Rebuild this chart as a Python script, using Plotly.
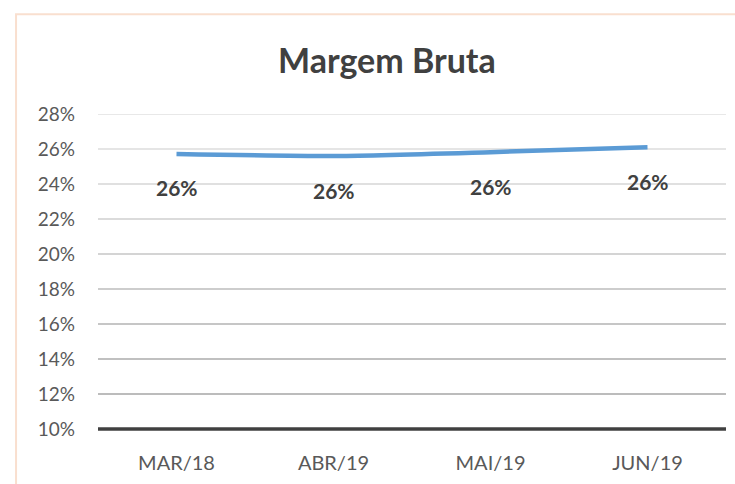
import plotly.graph_objects as go

# Margem Bruta por período (em %)
periodos = ["MAR/18", "ABR/19", "MAI/19", "JUN/19"]
margem = [25.72, 25.6, 25.82, 26.1]
rotulos = ["26%", "26%", "26%", "26%"]
ticks_y = [10, 12, 14, 16, 18, 20, 22, 24, 26, 28]
tick_labels = [f"{v}%" for v in ticks_y]

FONT = "Lato, 'Open Sans', Arial, sans-serif"

fig = go.Figure()

# gridlines (Excel style, slightly darker toward bottom)
grid_colors = ["#a6a6a6", "#ababab", "#b3b3b3", "#bdbdbd",
               "#c6c6c6", "#cfcfcf", "#d6d6d6", "#dcdcdc", "#e0e0e0"]
for v, col in zip(ticks_y[1:], grid_colors):
    fig.add_shape(type="line", xref="paper", yref="y", x0=0, x1=1, y0=v, y1=v,
                  line=dict(color=col, width=1.6), layer="below")
# category axis line at the bottom
fig.add_shape(type="line", xref="paper", yref="paper", x0=0, x1=1, y0=0, y1=0,
              line=dict(color="#404040", width=3.5), layer="below")

fig.add_trace(go.Scatter(
    x=periodos, y=margem, mode="lines",
    line=dict(color="#5b9bd5", width=4.5, shape="spline", smoothing=0.6),
    hoverinfo="skip", showlegend=False,
))

for p, v, t in zip(periodos, margem, rotulos):
    fig.add_annotation(x=p, y=v, text=f"<b>{t}</b>", showarrow=False,
                       yshift=-34, font=dict(family=FONT, size=21, color="#404040"))

# chart border (peach)
fig.add_shape(type="rect", xref="paper", yref="paper",
              x0=-0.1305, x1=1.2, y0=-0.5, y1=1.317,
              line=dict(color="#f9dfcf", width=2), fillcolor="rgba(0,0,0,0)",
              layer="below")

fig.update_layout(
    width=735, height=484,
    margin=dict(l=98, r=9, t=114, b=54.5),
    paper_bgcolor="white", plot_bgcolor="white",
    title=dict(text="<b>Margem Bruta</b>", x=0.46, xref="paper", xanchor="center",
               y=0.874, yanchor="middle",
               font=dict(family=FONT, size=34, color="#404040")),
    xaxis=dict(showgrid=False, zeroline=False, showline=False, ticks="",
               range=[-0.5, 3.5], ticklabelstandoff=20, automargin=False,
               tickfont=dict(family=FONT, size=20, color="#595959")),
    yaxis=dict(range=[10, 28], tickvals=ticks_y, ticktext=tick_labels,
               showgrid=False, zeroline=False, showline=False, ticks="",
               ticklabelstandoff=22, automargin=False,
               tickfont=dict(family=FONT, size=19, color="#595959")),
)

fig.write_html("out.html", config={"displayModeBar": False},
               post_script="document.body.style.margin='0';")
